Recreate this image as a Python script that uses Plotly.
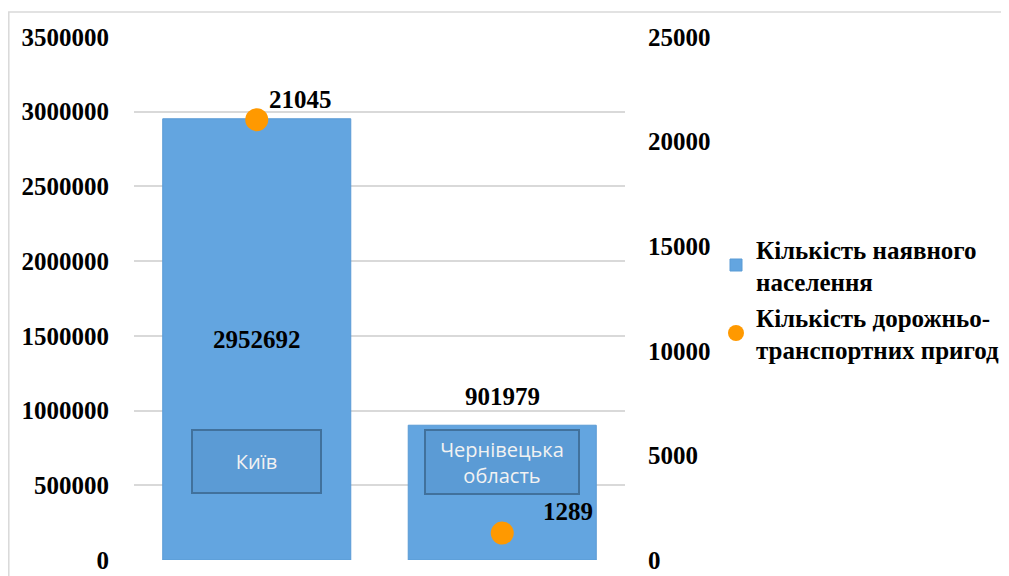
import plotly.graph_objects as go

categories = ["Київ", "Чернівецька область"]
category_labels = ["Київ", "Чернівецька<br>область"]
population = [2952692, 901979]
accidents = [21045, 1289]
series_names = ["Кількість наявного<br>населення", "Кількість дорожньо-<br>транспортних пригод"]
left_ticks = [0, 500000, 1000000, 1500000, 2000000, 2500000, 3000000, 3500000]
right_ticks = [0, 5000, 10000, 15000, 20000, 25000]

SERIF = "Liberation Serif"
BAR_COLOR = "#63A5E0"
DOT_COLOR = "#FF9900"
NUM_SIZE = 25

fig = go.Figure()

fig.add_trace(go.Bar(
    x=categories, y=population, name=series_names[0],
    marker=dict(color=BAR_COLOR, line=dict(color="#5B9BD5", width=1)),
    text=[str(v) for v in population],
    textposition=["inside", "none"],
    insidetextanchor="middle",
    textfont=dict(family=SERIF, size=NUM_SIZE, color="black", weight="bold"),
    cliponaxis=False,
    yaxis="y",
))

fig.add_trace(go.Scatter(
    x=categories, y=accidents, name=series_names[1],
    mode="markers",
    marker=dict(color=DOT_COLOR, size=23),
    yaxis="y2",
    cliponaxis=False,
))

# label above the second bar
fig.add_annotation(x=categories[1], y=population[1], xref="x", yref="y", text=str(population[1]),
                   showarrow=False, yshift=29,
                   font=dict(family=SERIF, size=NUM_SIZE, color="black", weight="bold"))

# point labels for accidents
shifts = [(44, 20), (66, 22)]
for c, v, (dx, dy) in zip(categories, accidents, shifts):
    fig.add_annotation(x=c, y=v, xref="x", yref="y2", text=str(v), showarrow=False,
                       xshift=dx, yshift=dy,
                       font=dict(family=SERIF, size=NUM_SIZE, color="black", weight="bold"))

# category label boxes
box_sizes = [(127, 61), (152, 62)]
for c, lab, (w, h) in zip(categories, category_labels, box_sizes):
    fig.add_annotation(x=c, y=(560 - 461.5) / 523, xref="x", yref="paper", text=lab,
                       showarrow=False, yanchor="middle", xanchor="center",
                       width=w, height=h, bgcolor="#5B9BD5", bordercolor="#41719C",
                       borderwidth=2, borderpad=0,
                       font=dict(family="Open Sans", size=20, color="#F2F2F2"))

# chart border
fig.add_shape(type="rect", xref="paper", yref="paper",
              x0=(8.8 - 134) / 491, x1=(1030 - 134) / 491,
              y0=-0.2, y1=1 + (37 - 12) / 523,
              line=dict(color="#D9D9D9", width=1.5), layer="below")

fig.update_layout(
    width=1001, height=568,
    margin=dict(l=126, r=384, t=29, b=16, autoexpand=False),
    paper_bgcolor="white", plot_bgcolor="white",
    bargap=0.234,
    showlegend=True,
    legend=dict(x=(716 - 134) / 491, y=(560 - 226) / 523, xanchor="left", yanchor="top",
                font=dict(family=SERIF, size=25, color="black", weight="bold"),
                bgcolor="rgba(0,0,0,0)", tracegroupgap=12),
    xaxis=dict(showticklabels=False, showgrid=False, showline=False, zeroline=False,
               ticks="", automargin=False),
    yaxis=dict(range=[0, 3500000], tickvals=left_ticks, ticktext=[str(t) for t in left_ticks],
               showgrid=True, gridcolor="#D9D9D9", gridwidth=1.5, zeroline=False,
               showline=False, ticks="", ticklabelstandoff=24, automargin=False,
               tickfont=dict(family=SERIF, size=NUM_SIZE, color="black", weight="bold")),
    yaxis2=dict(range=[0, 25000], tickvals=right_ticks, ticktext=[str(t) for t in right_ticks],
                overlaying="y", side="right", showgrid=False, zeroline=False,
                showline=False, ticks="", ticklabelstandoff=22, automargin=False,
                tickfont=dict(family=SERIF, size=NUM_SIZE, color="black", weight="bold")),
)

fig.write_html("out.html")
